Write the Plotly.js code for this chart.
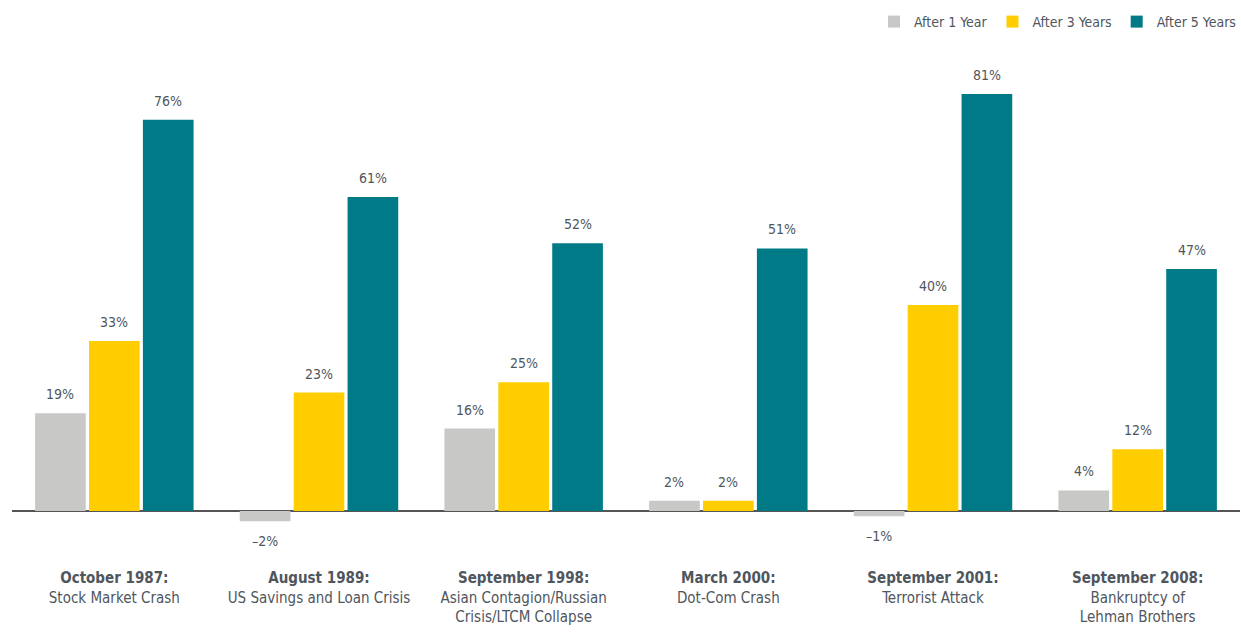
<!DOCTYPE html>
<html>
<head>
<meta charset="utf-8">
<script src="https://cdn.plot.ly/plotly-3.0.1.min.js"></script>
<style>html,body{margin:0;padding:0;background:#fff;}#chart{width:1241px;height:635px;}</style>
</head>
<body>
<div id="chart"></div>
<script>
const categories = [
  "<b>October 1987:</b><br>Stock Market Crash",
  "<b>August 1989:</b><br>US Savings and Loan Crisis",
  "<b>September 1998:</b><br>Asian Contagion/Russian<br>Crisis/LTCM Collapse",
  "<b>March 2000:</b><br>Dot-Com Crash",
  "<b>September 2001:</b><br>Terrorist Attack",
  "<b>September 2008:</b><br>Bankruptcy of<br>Lehman Brothers"
];
const seriesNames = ["After 1 Year", "After 3 Years", "After 5 Years"];
const after1 = [19, -2, 16, 2, -1, 4];
const after3 = [33, 23, 25, 2, 40, 12];
const after5 = [76, 61, 52, 51, 81, 47];
const colors = ["#C8C8C6", "#FFCD00", "#007A87"];

const FONT = "'Liberation Sans Narrow', 'DejaVu Sans Condensed', 'Roboto Condensed', 'Liberation Sans', sans-serif";
const textColor = "#4f565d";

const W = 1241, H = 635;
const margin = {l: 12, r: 1, t: 73, b: 68};
const bargap = 0.21, bargroupgap = 0.06;
const series = [after1, after3, after5];

const traces = series.map((vals, i) => ({
  type: "bar",
  name: seriesNames[i],
  x: categories,
  y: vals,
  marker: {color: colors[i]},
  hoverinfo: "skip"
}));

const plotW = W - margin.l - margin.r;
const slot = plotW / categories.length * (1 - bargap) / series.length;
const annotations = [];
series.forEach((vals, i) => {
  vals.forEach((v, j) => {
    annotations.push({
      x: categories[j], y: v, xref: "x", yref: "y",
      xshift: (i - 1) * slot,
      yshift: v >= 0 ? 9 : -10,
      yanchor: v >= 0 ? "bottom" : "top",
      text: (v < 0 ? "–" + Math.abs(v) : String(v)) + "%",
      showarrow: false,
      font: {family: FONT, size: 14, color: textColor}
    });
  });
});

const layout = {
  width: W, height: H,
  margin: margin,
  paper_bgcolor: "#fff", plot_bgcolor: "#fff",
  barmode: "group", bargap: bargap, bargroupgap: bargroupgap,
  font: {family: FONT, size: 14, color: textColor},
  showlegend: true,
  legend: {
    orientation: "h", x: 1, xanchor: "right", xref: "container",
    y: 1 - 6/635, yanchor: "top", yref: "container",
    font: {family: FONT, size: 14, color: textColor},
    traceorder: "normal", itemclick: false, itemdoubleclick: false
  },
  xaxis: {
    type: "category",
    showgrid: false, showline: false, zeroline: false,
    ticks: "", ticklabelstandoff: 0,
    tickfont: {family: FONT, size: 15, color: textColor},
    fixedrange: true
  },
  yaxis: {
    range: [-10.88, 85.08],
    showgrid: false, showline: false, showticklabels: false, ticks: "",
    zeroline: true, zerolinecolor: "#555555", zerolinewidth: 1.5,
    fixedrange: true
  },
  annotations: annotations
};

Plotly.newPlot("chart", traces, layout, {displayModeBar: false, staticPlot: true});
</script>
</body>
</html>
